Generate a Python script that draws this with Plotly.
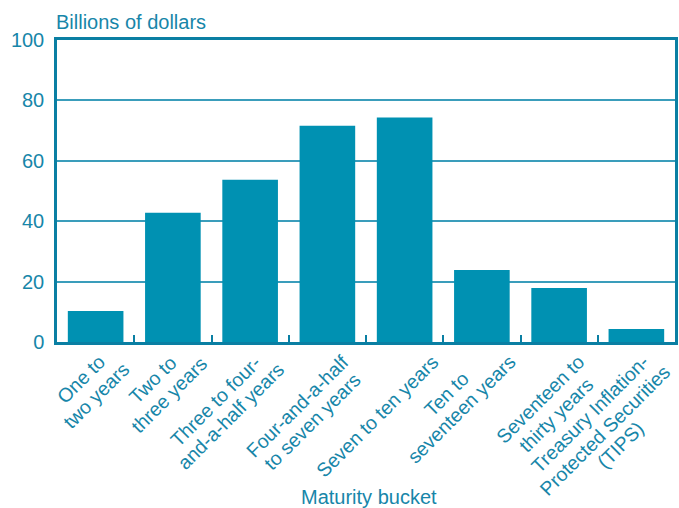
import math
import plotly.graph_objects as go

categories = [
    "One to<br>two years",
    "Two to<br>three years",
    "Three to four-<br>and-a-half years",
    "Four-and-a-half<br>to seven years",
    "Seven to ten years",
    "Ten to<br>seventeen years",
    "Seventeen to<br>thirty years",
    "Treasury Inflation-<br>Protected Securities<br>(TIPS)",
]
values = [10.3, 42.8, 53.7, 71.6, 74.3, 23.8, 17.9, 4.3]
y_ticks = [0, 20, 40, 60, 80, 100]

BAR = "#0091B2"
TXT = "#1786A9"
LINE = "#0A7FA3"
GRID = "#3A9DBB"
FONT = "Liberation Sans, Arial, sans-serif"

# approximate advance widths (em) of Liberation Sans, used only to lay out the
# centred, rotated category labels
W_EM = {" ": .278, "-": .333, "(": .333, ")": .333,
        "a": .556, "c": .5, "d": .556, "e": .556, "f": .278, "h": .556, "i": .222,
        "l": .222, "n": .556, "o": .556, "p": .556, "r": .333, "s": .5, "t": .278,
        "u": .556, "v": .5, "w": .722, "y": .5,
        "F": .611, "I": .278, "O": .778, "P": .667, "S": .667, "T": .611}


def text_w(s, fs):
    return sum(W_EM.get(ch, .556) for ch in s) * fs


fig = go.Figure(go.Bar(x=categories, y=values, marker=dict(color=BAR, line=dict(width=0))))

annotations = [
    dict(text="Billions of dollars", xref="paper", yref="paper",
         x=0, y=1, xshift=-3, yshift=5, xanchor="left", yanchor="bottom",
         showarrow=False, font=dict(size=20, color=TXT, family=FONT)),
    dict(text="Maturity bucket", xref="paper", yref="paper",
         x=0.5, y=0, xshift=3, yshift=-155, xanchor="center", yanchor="middle",
         showarrow=False, font=dict(size=20, color=TXT, family=FONT)),
]

# category labels: lines centred, block rotated -45 degrees, its top-right
# corner hung just below-right of the category centre on the x scale
FS = 19.5
LSP = 21.5
K = math.sqrt(0.5)
UP, DOWN = 0.31 * FS, 0.35 * FS
for cat in categories:
    lines = cat.split("<br>")
    ws = [text_w(l, FS) for l in lines]
    W = max(ws)
    tcs = [j * LSP for j in range(len(lines))]
    max_st = max((W + w) / 2 + tc + DOWN for w, tc in zip(ws, tcs))
    min_ts = min(tc - UP - (W + w) / 2 for w, tc in zip(ws, tcs))
    ox = 35 - K * max_st
    oy = 12.5 - K * min_ts
    for line, tc in zip(lines, tcs):
        dx = ox + K * (W / 2 + tc)
        dy = oy + K * (tc - W / 2)
        annotations.append(dict(
            text=line, x=cat, y=0, xref="x", yref="y", showarrow=False,
            textangle=-45, xanchor="center", yanchor="middle",
            xshift=dx, yshift=-dy, font=dict(size=FS, color=TXT, family=FONT),
        ))

fig.update_layout(
    width=679, height=508,
    margin=dict(l=57, r=4, t=40, b=166),
    paper_bgcolor="white", plot_bgcolor="white",
    bargap=0.28, showlegend=False,
    font=dict(family=FONT, color=TXT, size=19),
    annotations=annotations,
)
fig.update_xaxes(
    range=[-0.5, len(categories) - 0.5], autorange=False,
    tickson="boundaries", ticks="inside", ticklen=7, tickwidth=1.5,
    tickcolor=LINE, showline=True, linecolor=LINE, linewidth=2.5, mirror=True,
    showgrid=False, showticklabels=False, automargin=False,
)
fig.update_yaxes(
    range=[0, 100], autorange=False, tickvals=y_ticks, ticks="", showline=True,
    linecolor=LINE, linewidth=2.5, mirror=True, showgrid=True, gridcolor=GRID,
    gridwidth=1.5, tickfont=dict(size=20, color=TXT), zeroline=False,
    ticklabelstandoff=6, automargin=False,
)
fig.write_html("out.html", config={"displayModeBar": False},
               post_script="document.body.style.margin='0';")
